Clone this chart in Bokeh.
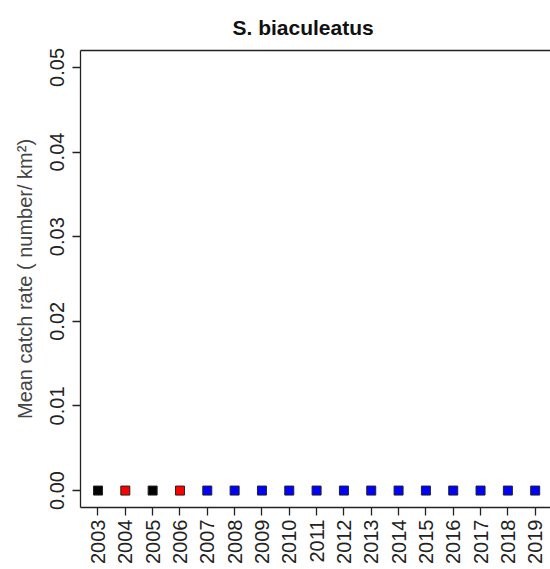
import math
from bokeh.plotting import figure
from bokeh.models import ColumnDataSource, FixedTicker, NumeralTickFormatter, LinearAxis, Range1d
from bokeh.embed import file_html
from bokeh.resources import INLINE

years = list(range(2003, 2020))
catch_rate = [0.0] * 17
colors = ["#000000", "#FF0000", "#000000", "#FF0000"] + ["#0000FF"] * 13
y_ticks = [0.0, 0.01, 0.02, 0.03, 0.04, 0.05]
title_text = "S. biaculeatus"

src = ColumnDataSource(dict(x=years, y=catch_rate, c=colors))

p = figure(width=550, height=569, output_backend="svg", toolbar_location=None,
           x_range=Range1d(2002.36, 2019.56), y_range=Range1d(-0.002, 0.052),
           min_border_left=80, min_border_right=0, min_border_top=50, min_border_bottom=62)
p.outline_line_color = None
p.grid.visible = False
p.background_fill_color = "white"

p.scatter("x", "y", source=src, marker="square", size=9, fill_color="c",
          line_color="#222222", line_width=1)

FONT = "Liberation Sans"

p.title.text = title_text
p.title.text_font = FONT
p.title.text_font_size = "21px"
p.title.text_font_style = "bold"
p.title.text_color = "#111111"
p.title.align = "left"
p.title.offset = 152
p.title.standoff = 24

xa = p.xaxis[0]
xa.ticker = FixedTicker(ticks=years)
xa.major_label_orientation = math.pi / 2
ya = p.yaxis[0]
ya.ticker = FixedTicker(ticks=y_ticks)
ya.formatter = NumeralTickFormatter(format="0.00")
ya.major_label_orientation = "vertical"
ya.axis_label = "Mean catch rate ( number/ km\u00b2)"
ya.axis_label_text_font = FONT
ya.axis_label_text_font_size = "20px"
ya.axis_label_text_font_style = "normal"
ya.axis_label_standoff = 12

for ax in (xa, ya):
    ax.major_label_text_font = FONT
    ax.major_label_text_font_size = "20px"
    ax.major_label_text_color = "#222222"
    ax.major_tick_out = 8
    ax.major_tick_in = 0
    ax.minor_tick_out = 0
    ax.minor_tick_in = 0
    ax.axis_line_color = "#222222"
    ax.major_tick_line_color = "#222222"
    ax.axis_line_width = 1.3
    ax.major_tick_line_width = 1.3
xa.major_label_standoff = 4
ya.major_label_standoff = 8

top = LinearAxis(ticker=FixedTicker(ticks=[]), major_label_text_font_size="0px",
                 major_tick_out=0, major_tick_in=0, minor_tick_out=0, minor_tick_in=0,
                 axis_line_color="#222222", axis_line_width=1.3)
p.add_layout(top, "above")

open("out.html", "w").write(file_html(p, INLINE))
